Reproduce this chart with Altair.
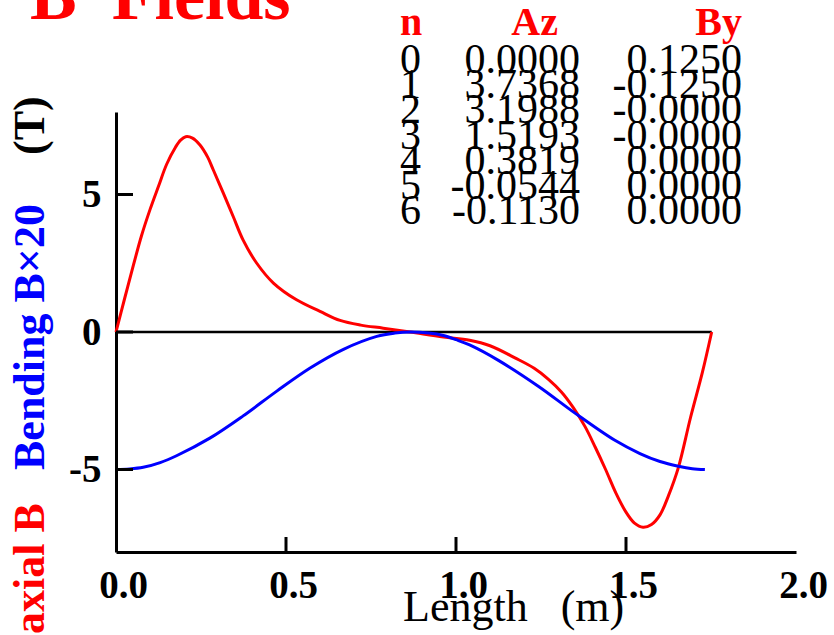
import altair as alt
import pandas as pd

# ---- data ----
axial_len = [0.000, 0.025, 0.051, 0.075, 0.100, 0.125, 0.149, 0.175, 0.190, 0.205,
             0.225, 0.247, 0.270, 0.286, 0.316, 0.345, 0.374, 0.414, 0.463, 0.531,
             0.600, 0.659, 0.720, 0.786, 0.865, 0.963, 1.040, 1.100, 1.175, 1.230,
             1.272, 1.310, 1.345, 1.380, 1.410, 1.440, 1.470, 1.500, 1.525, 1.550,
             1.575, 1.600, 1.625, 1.654, 1.690, 1.725, 1.752]
axial_b = [0.00, 1.20, 2.42, 3.50, 4.45, 5.30, 6.10, 6.72, 6.98, 7.10,
           7.05, 6.80, 6.35, 5.90, 5.04, 4.19, 3.34, 2.50, 1.78, 1.17,
           0.75, 0.42, 0.25, 0.14, 0.00, -0.18, -0.30, -0.50, -0.95, -1.32,
           -1.72, -2.18, -2.75, -3.45, -4.20, -5.00, -5.85, -6.55, -6.95, -7.10,
           -7.00, -6.65, -5.95, -4.93, -3.10, -1.45, 0.00]

bend_len = [0.000, 0.040, 0.080, 0.130, 0.178, 0.276, 0.374, 0.473, 0.571, 0.669,
            0.767, 0.820, 0.865, 0.920, 0.963, 1.000, 1.040, 1.126, 1.243, 1.350,
            1.466, 1.541, 1.600, 1.654, 1.695, 1.732]
bend_b = [-5.00, -4.98, -4.92, -4.75, -4.50, -3.86, -3.05, -2.15, -1.31, -0.63,
          -0.16, -0.04, 0.00, -0.04, -0.13, -0.28, -0.47, -1.04, -1.98, -2.95,
          -3.93, -4.42, -4.71, -4.88, -4.97, -5.00]

zero_len = [0.0, 1.752]
zero_b = [0.0, 0.0]

x_tick_values = [0.5, 1.0, 1.5]
x_label_values = [0.0, 0.5, 1.0, 1.5, 2.0]
y_tick_values = [-5, 0, 5]

table_n = [0, 1, 2, 3, 4, 5, 6]
table_az = ["0.0000", "3.7368", "3.1988", "1.5193", "0.3819", "-0.0544", "-0.1130"]
table_by = ["0.1250", "-0.1250", "-0.0000", "-0.0000", "0.0000", "0.0000", "0.0000"]

# ---- layout ----
FONT = "Liberation Serif"
W, H = 680, 440
PL, PT = 116, 112

xs = alt.Scale(domain=[0, 2], nice=False, zero=False)
ys = alt.Scale(domain=[-8, 8], nice=False, zero=False)

x_axis = alt.Axis(values=x_label_values, format=".1f", title=None, grid=False,
                  ticks=False, tickSize=0, labelPadding=45, labelBaseline="alphabetic",
                  labelOffset=7, labelFlush=False, labelOverlap=False, labelBound=False,
                  labelFont=FONT, labelFontSize=39, labelFontWeight="bold",
                  labelColor="black", domainColor="black", domainWidth=3)
y_axis = alt.Axis(values=y_tick_values, title=None, grid=False, ticks=False, tickSize=0,
                  labelPadding=15, labelBaseline="middle", labelAlign="right",
                  labelExpr="datum.value < 0 ? '-' + abs(datum.value) : datum.label",
                  labelOverlap=False, labelBound=False, labelFlush=False,
                  labelFont=FONT, labelFontSize=39, labelFontWeight="bold",
                  labelColor="black", domainColor="black", domainWidth=3)

zero_df = pd.DataFrame({"L": zero_len, "B": zero_b})
axial_df = pd.DataFrame({"L": axial_len, "B": axial_b})
bend_df = pd.DataFrame({"L": bend_len, "B": bend_b})

zero_layer = alt.Chart(zero_df).mark_line(color="black", strokeWidth=2.5).encode(
    x=alt.X("L:Q", scale=xs, axis=x_axis),
    y=alt.Y("B:Q", scale=ys, axis=y_axis),
)
axial_layer = alt.Chart(axial_df).mark_line(color="#ff0000", strokeWidth=3,
                                             interpolate="catmull-rom").encode(
    x=alt.X("L:Q", scale=xs), y=alt.Y("B:Q", scale=ys))
bend_layer = alt.Chart(bend_df).mark_line(color="#0000ff", strokeWidth=3,
                                           interpolate="catmull-rom").encode(
    x=alt.X("L:Q", scale=xs), y=alt.Y("B:Q", scale=ys))

xt_layer = alt.Chart(pd.DataFrame({"v": x_tick_values})).mark_rule(
    color="black", strokeWidth=3).encode(
    x=alt.X("v:Q", scale=xs), y=alt.value(H), y2=alt.value(H - 15))
yt_layer = alt.Chart(pd.DataFrame({"v": y_tick_values})).mark_rule(
    color="black", strokeWidth=3).encode(
    y=alt.Y("v:Q", scale=ys), x=alt.value(0), x2=alt.value(17))


def label(text, px, py, size, color="black", weight="normal", align="left", angle=0):
    kw = dict(font=FONT, fontSize=size, color=color, fontWeight=weight,
              align=align, baseline="alphabetic")
    if angle:
        kw["angle"] = angle
    return alt.Chart(pd.DataFrame({"t": [text]})).mark_text(**kw).encode(
        x=alt.value(px - PL), y=alt.value(py - PT), text="t:N")


title = label("B\u00a0\u00a0Fields", 30, 19, 70, color="#ff0000", weight="bold")
xlabel = label("Length\u00a0\u00a0\u00a0(m)", 403, 621, 44)
yl1 = label("axial B", 44, 634, 44, color="#ff0000", weight="bold", angle=270)
yl2 = label("Bending B\u00d720", 44, 470, 44, color="#0000ff", weight="bold", angle=270)
yl3 = label("(T)", 44, 155, 44, color="black", weight="bold", angle=270)

h1 = label("n", 400, 35, 40, color="#ff0000", weight="bold")
h2 = label("Az", 558, 35, 40, color="#ff0000", weight="bold", align="right")
h3 = label("By", 742, 35, 40, color="#ff0000", weight="bold", align="right")

table_df = pd.DataFrame({"n": table_n, "az": table_az, "by": table_by})
row_y = "-39 + 25.2 * datum.n"
tbase = alt.Chart(table_df).transform_calculate(py=row_y)
TFS = 42
t_n = tbase.mark_text(font=FONT, fontSize=TFS, color="black", align="left",
                      baseline="alphabetic").encode(
    x=alt.value(400 - PL), y=alt.Y("py:Q", scale=None), text="n:N")
t_az = tbase.mark_text(font=FONT, fontSize=TFS, color="black", align="right",
                       baseline="alphabetic").encode(
    x=alt.value(580 - PL), y=alt.Y("py:Q", scale=None), text="az:N")
t_by = tbase.mark_text(font=FONT, fontSize=TFS, color="black", align="right",
                       baseline="alphabetic").encode(
    x=alt.value(742 - PL), y=alt.Y("py:Q", scale=None), text="by:N")

chart = alt.layer(
    zero_layer, axial_layer, bend_layer, xt_layer, yt_layer,
    title, xlabel, yl1, yl2, yl3, h1, h2, h3, t_n, t_az, t_by,
).properties(
    width=W, height=H,
    autosize=alt.AutoSizeParams(type="none"),
    padding={"left": PL, "top": PT, "right": 834 - PL - W, "bottom": 635 - PT - H},
    background="white",
).configure_view(stroke=None)

chart.save("out.html", embed_options={"renderer": "svg", "actions": False})
